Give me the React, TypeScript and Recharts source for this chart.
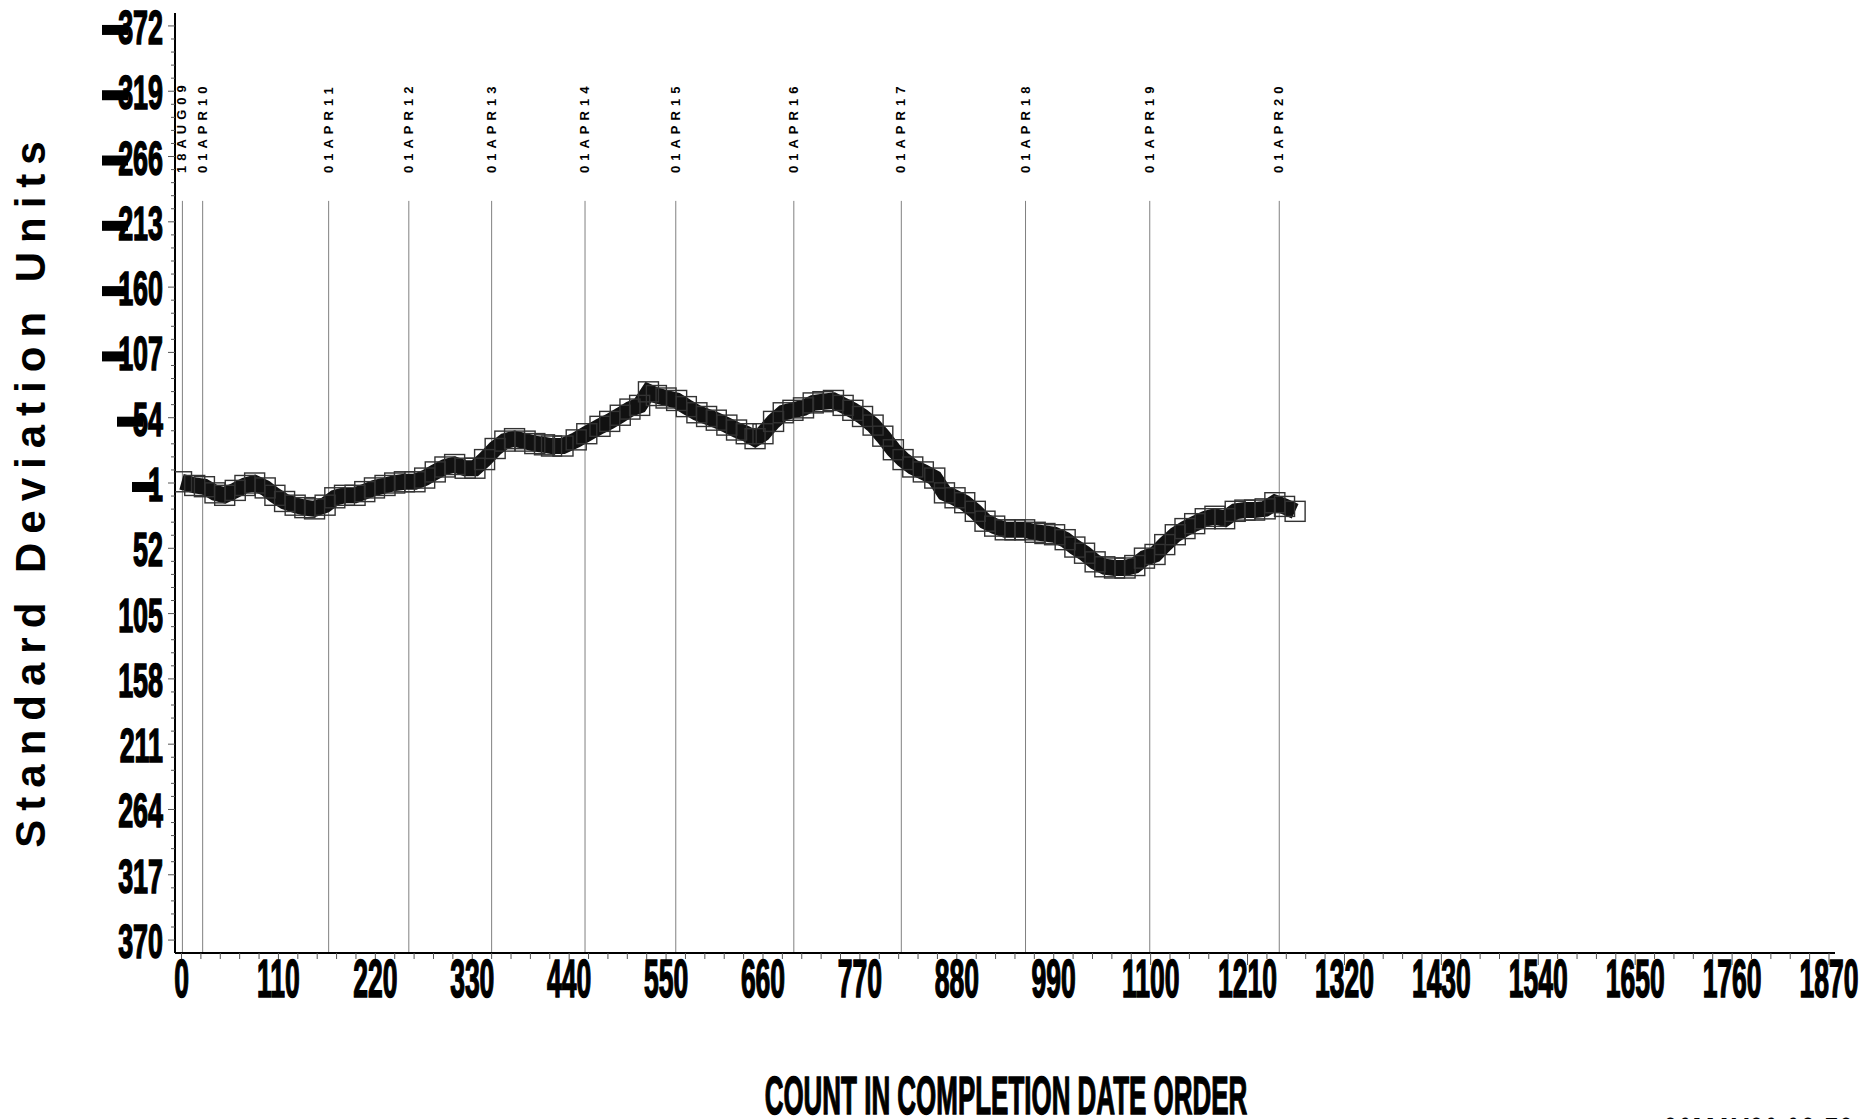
import { Line, LineChart, ReferenceLine, XAxis, YAxis } from 'recharts'

const FONT = "'Liberation Sans', Arial, sans-serif"
const REF_GREY = '#808080'
const TICK_GREY = '#555'

// count in completion date order
const COUNTS = [
  0, 15, 26, 38, 49, 61, 72, 83, 95, 106,
  117, 129, 140, 151, 163, 174, 185, 197, 208, 219,
  231, 242, 253, 265, 276, 288, 299, 310, 322, 333,
  344, 356, 367, 378, 390, 401, 412, 420, 433, 448, 460,
  475, 486, 498, 509, 520, 530, 539, 550, 562, 573,
  585, 596, 607, 619, 630, 641, 651, 660, 672, 683,
  694, 706, 717, 728, 740, 751, 762, 773, 785, 796,
  808, 819, 830, 842, 855, 866, 878, 889, 901, 912,
  923, 935, 946, 957, 969, 980, 991, 1003, 1014, 1025,
  1037, 1048, 1059, 1071, 1082, 1093, 1105, 1116, 1128, 1139,
  1150, 1162, 1173, 1184, 1196, 1207, 1218, 1230, 1241, 1252,
  1264,
]

const SD_UNITS = [
  -2, 1, 2, 7, 9, 5, 1, -1, 3, 9,
  14, 17, 19, 20, 17, 11, 9, 9, 6, 3,
  1, -1, -2, -2, -5, -10, -14, -16, -13, -13,
  -20, -29, -35, -37, -35, -33, -32, -31, -31, -36, -41,
  -47, -51, -56, -61, -64, -75, -72, -70, -68, -63,
  -58, -55, -52, -48, -44, -41, -37, -41, -51, -58,
  -60, -62, -66, -67, -68, -64, -60, -55, -48, -39,
  -28, -20, -14, -10, -5, 7, 11, 15, 22, 30,
  34, 37, 37, 37, 39, 40, 41, 45, 51, 56,
  63, 67, 68, 68, 66, 60, 57, 49, 41, 36,
  32, 28, 26, 28, 22, 21, 21, 20, 15, 18,
  22,
]

const X_TICKS = [0, 110, 220, 330, 440, 550, 660, 770, 880, 990, 1100, 1210, 1320, 1430, 1540, 1650, 1760, 1870]
const Y_TICKS = [-372, -319, -266, -213, -160, -107, -54, -1, 52, 105, 158, 211, 264, 317, 370]

const REF_COUNTS = [1, 24, 167, 258, 352, 458, 561, 695, 817, 958, 1099, 1246]
const REF_DATES = [
  '18AUG09', '01APR10', '01APR11', '01APR12', '01APR13', '01APR14',
  '01APR15', '01APR16', '01APR17', '01APR18', '01APR19', '01APR20',
]

const X_DOMAIN: [number, number] = [-7.4, 1876.8]
const Y_DOMAIN: [number, number] = [-382.5, 380.5]

// four minor ticks between each pair of major ticks
function withMinors(majors: number[]) {
  const out: number[] = []
  majors.forEach((m, i) => {
    out.push(m)
    const next = majors[i + 1]
    if (next == null) return
    for (let k = 1; k < 5; k++) out.push(m + ((next - m) * k) / 5)
  })
  return out
}

const xTicksAll = withMinors(X_TICKS)
const yTicksAll = withMinors(Y_TICKS)

const data = COUNTS.map((c, i) => ({ count: c, sd: SD_UNITS[i] }))

function YTick({ x, y, payload }: any) {
  const v = payload.value as number
  const major = Y_TICKS.includes(v)
  if (!major) {
    return <line x1={x} x2={x - 4} y1={y} y2={y} stroke={TICK_GREY} />
  }
  const digits = String(Math.abs(v))
  const lx = x - 12
  const w = digits.length * 15
  return (
    <g>
      <line x1={x} x2={x - 7} y1={y} y2={y} stroke={TICK_GREY} />
      <text
        transform={`translate(${lx},${y + 18}) scale(0.56,1)`}
        textAnchor="end"
        fontSize={48}
        fontWeight={700}
        fontFamily={FONT}
        fill="#000"
        stroke="#000"
        strokeWidth={1.6}
      >
        {digits}
      </text>
      {v < 0 && <rect x={lx - w - 16} y={y - 1} width={26} height={10} fill="#000" />}
    </g>
  )
}

function XTick({ x, y, payload }: any) {
  const v = payload.value as number
  const major = X_TICKS.includes(v)
  if (!major) {
    return <line x1={x} x2={x} y1={y} y2={y + 6} stroke={TICK_GREY} />
  }
  return (
    <g>
      <line x1={x} x2={x} y1={y} y2={y + 12} stroke={TICK_GREY} />
      <text
        transform={`translate(${x},${y + 44}) scale(0.5,1)`}
        textAnchor="middle"
        fontSize={53}
        fontWeight={700}
        fontFamily={FONT}
        fill="#000"
        stroke="#000"
        strokeWidth={1.6}
      >
        {v}
      </text>
    </g>
  )
}

function DateLabel({ viewBox, text }: any) {
  if (!viewBox) return null
  return (
    <text
      transform={`translate(${viewBox.x + 4},173) rotate(-90)`}
      fontSize={13}
      fontWeight={700}
      letterSpacing={5}
      fontFamily={FONT}
      fill="#000"
    >
      {text}
    </text>
  )
}

function SquareDot(props: any) {
  const { cx, cy, index } = props
  if (cx == null || cy == null) return null
  return (
    <rect
      key={`sq-${index}`}
      x={cx - 10}
      y={cy - 10}
      width={20}
      height={20}
      fill="none"
      stroke="#333"
      strokeWidth={1.4}
    />
  )
}

export default function App() {
  return (
    <div style={{ position: 'fixed', left: 0, top: 0, width: 1866, height: 1119, background: '#fff' }}>
      <LineChart
        width={1866}
        height={1119}
        data={data}
        margin={{ top: 13, right: 31, bottom: 6, left: 5 }}
      >
        <XAxis
          xAxisId="major"
          type="number"
          dataKey="count"
          domain={X_DOMAIN}
          ticks={xTicksAll}
          interval={0}
          allowDataOverflow
          height={160}
          tickSize={0}
          tickMargin={0}
          tickLine={false}
          axisLine={{ stroke: '#000', strokeWidth: 2 }}
          tick={<XTick />}
        />
        <YAxis
          yAxisId="major"
          type="number"
          domain={Y_DOMAIN}
          reversed
          ticks={yTicksAll}
          interval={0}
          allowDataOverflow
          width={170}
          tickSize={0}
          tickMargin={0}
          tickLine={false}
          axisLine={{ stroke: '#000', strokeWidth: 2 }}
          tick={<YTick />}
        />
        {REF_COUNTS.map((c, i) => (
          <ReferenceLine
            key={REF_DATES[i]}
            xAxisId="major"
            yAxisId="major"
            segment={[
              { x: c, y: -230 },
              { x: c, y: Y_DOMAIN[1] },
            ]}
            stroke={REF_GREY}
            strokeWidth={1}
            ifOverflow="visible"
            label={<DateLabel text={REF_DATES[i]} />}
          />
        ))}
        <Line
          xAxisId="major"
          yAxisId="major"
          type="linear"
          dataKey="sd"
          stroke="#111"
          strokeWidth={16}
          dot={SquareDot}
          activeDot={false}
          isAnimationActive={false}
        />
      </LineChart>
      <svg
        width={1866}
        height={1119}
        style={{ position: 'absolute', left: 0, top: 0, pointerEvents: 'none' }}
      >
        <text
          transform="translate(45,490) rotate(-90)"
          textAnchor="middle"
          fontSize={42}
          fontWeight={700}
          letterSpacing={9}
          fontFamily={FONT}
          fill="#000"
        >
          Standard Deviation Units
        </text>
        <text
          transform="translate(1006,1114) scale(0.49,1)"
          textAnchor="middle"
          fontSize={53}
          fontWeight={700}
          fontFamily={FONT}
          fill="#000"
          stroke="#000"
          strokeWidth={1.4}
        >
          COUNT IN COMPLETION DATE ORDER
        </text>
        <text
          transform="translate(1663,1155) scale(0.5,1)"
          fontSize={53}
          fontWeight={700}
          fontFamily={FONT}
          fill="#000"
        >
          20MAY20 08:53
        </text>
      </svg>
    </div>
  )
}
